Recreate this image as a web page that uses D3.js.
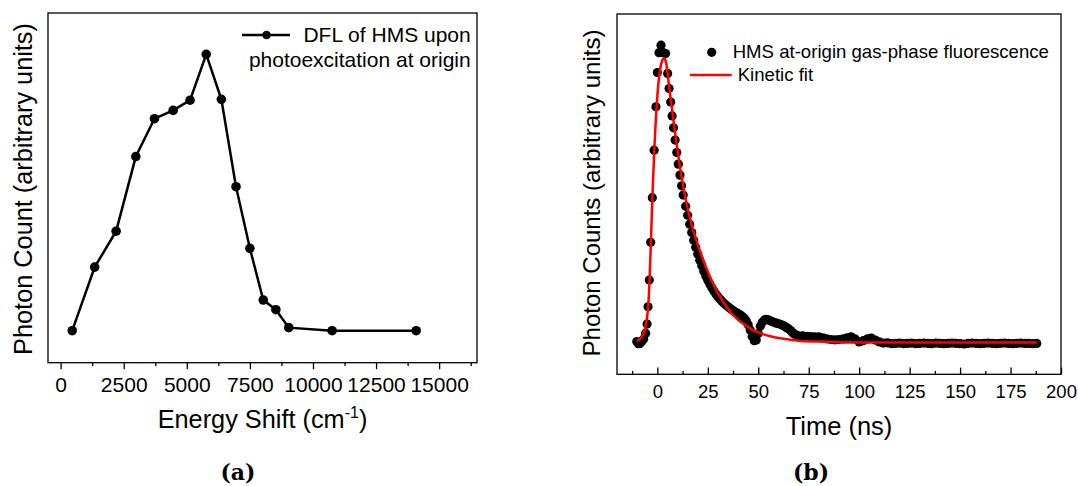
<!DOCTYPE html>
<html>
<head>
<meta charset="utf-8">
<title>HMS fluorescence</title>
<script src="https://d3js.org/d3.v7.min.js"></script>
<style>
  body { margin: 0; background: #fff; }
  svg { display: block; font-family: "Liberation Sans", Arial, sans-serif; }
  .frame { fill: none; stroke: #000; stroke-width: 1.3px; }
  .axis line { stroke: #000; stroke-width: 1.3px; }
  .axis text { fill: #000; font-family: "Liberation Sans", Arial, sans-serif; }
  .sub { font-family: "DejaVu Serif", serif; font-weight: bold; font-size: 22px; }
</style>
</head>
<body>
<svg id="fig" width="1078" height="486"></svg>
<script>
// (a) DFL spectrum
const dflShift = [460, 1350, 2200, 2980, 3720, 4460, 5130, 5770, 6370, 6950, 7500, 8030, 8530, 9040, 10760, 14090];
const dflCount = [0.03, 0.26, 0.39, 0.66, 0.797, 0.827, 0.864, 1.03, 0.867, 0.551, 0.328, 0.141, 0.106, 0.041, 0.03, 0.03];
const shiftTicks = [0, 2500, 5000, 7500, 10000, 12500, 15000];
const shiftMinor = [1250, 3750, 6250, 8750, 11250, 13750, 16250];

// (b) fluorescence decay (ns, arbitrary units)
const decayTime = [-10.2, -9.4, -8.6, -7.6, -6.8, -5.8, -5.1, -4.6, -4.0, -3.3, -2.5, -1.6, -0.7, 0.0, 0.8, 1.8, 2.9, 4.1, 5.1, 5.8, 6.6, 7.3, 8.0, 8.8, 9.6, 10.4, 11.2, 12.0, 12.8,
  14, 15, 16, 17, 18, 19, 20, 21, 22, 23, 24, 25, 26, 27, 28, 29, 30, 31, 32, 33, 34, 35, 36, 37, 38, 39, 40, 41, 42,
  43, 44, 45, 46, 47, 48, 49, 50, 51, 52, 53, 54, 55, 56, 57, 58, 59, 60, 61, 62, 63, 64, 65, 66, 67, 68, 69, 70,
  72, 74, 76, 78, 80, 82, 84, 86, 88, 90, 92, 94, 96, 98, 100, 102, 104, 106, 108, 110, 112, 114, 116, 118, 120,
  122, 124, 126, 128, 130, 132, 134, 136, 138, 140, 142, 144, 146, 148, 150, 152, 154, 156, 158, 160, 162, 164,
  166, 168, 170, 172, 174, 176, 178, 180, 182, 184, 186, 188];
const decayCount = [0.003, -0.004, -0.003, 0.005, 0.012, 0.031, 0.062, 0.12, 0.21, 0.337, 0.487, 0.647, 0.793, 0.908, 0.975, 1.0, 0.975, 0.972, 0.905, 0.854, 0.809, 0.762, 0.722, 0.681, 0.639, 0.6, 0.563, 0.527, 0.496,
  0.458, 0.428, 0.398, 0.37, 0.344, 0.32, 0.298, 0.277, 0.258, 0.24, 0.224, 0.209, 0.196, 0.184, 0.173, 0.163, 0.154, 0.146, 0.139, 0.132, 0.126, 0.12, 0.115, 0.11, 0.105, 0.101, 0.097, 0.093, 0.088,
  0.082, 0.073, 0.06, 0.042, 0.02, 0.006, 0.008, 0.03, 0.055, 0.068, 0.076, 0.078, 0.076, 0.073, 0.07, 0.067, 0.065, 0.063, 0.061, 0.058, 0.055, 0.05, 0.046, 0.04, 0.033, 0.028, 0.024, 0.022,
  0.022, 0.021, 0.02, 0.019, 0.019, 0.016, 0.012, 0.01, 0.009, 0.01, 0.012, 0.016, 0.019, 0.012, 0.002, 0.006, 0.012, 0.015, 0.008, 0.002, -0.002, -0.001, -0.004, -0.003, -0.002,
  -0.004, -0.003, -0.002, -0.004, -0.003, -0.002, -0.003, -0.004, -0.002, -0.003, -0.004, -0.003, -0.002, -0.003, -0.004, -0.005, -0.003, -0.002, -0.003, -0.004, -0.003, -0.002,
  -0.003, -0.004, -0.003, -0.002, -0.003, -0.004, -0.003, -0.002, -0.003, -0.003, -0.004, -0.003];
const fitTime = [-10.2, -9, -8, -7, -6, -5, -4.5, -4, -3.5, -3, -2.5, -2, -1.5, -1, -0.5, 0, 0.5, 1, 1.5, 2, 2.5, 3, 3.5, 4, 4.5, 5, 5.5, 6, 7, 8, 9, 10, 11, 12, 13, 14, 15, 16, 18,
  20, 22, 24, 26, 28, 30, 33, 36, 40, 44, 48, 52, 56, 60, 65, 70, 80, 90, 100, 120, 150, 188];
const fitCount = [0.005, 0.01, 0.016, 0.028, 0.05, 0.09, 0.125, 0.19, 0.28, 0.38, 0.48, 0.57, 0.65, 0.72, 0.78, 0.83, 0.87, 0.9, 0.925, 0.94, 0.95, 0.955, 0.957, 0.95, 0.935, 0.91, 0.88, 0.85, 0.8, 0.745, 0.695, 0.645, 0.6, 0.557, 0.518, 0.483, 0.452, 0.423, 0.372,
  0.33, 0.29, 0.255, 0.222, 0.192, 0.166, 0.133, 0.104, 0.076, 0.056, 0.04, 0.029, 0.021, 0.015, 0.01, 0.006, 0.003, 0.001, 0, 0, 0, 0];
const timeTicks = [0, 25, 50, 75, 100, 125, 150, 175, 200];
const timeMinor = [-12.5, 12.5, 37.5, 62.5, 87.5, 112.5, 137.5, 162.5, 187.5];

const svg = d3.select("#fig");
svg.append("rect").attr("width", 1078).attr("height", 486).attr("fill", "#fff");

// ---------- panel (a) ----------
const xa = d3.scaleLinear().domain([-500, 16500]).range([48, 477]);
const ya = d3.scaleLinear().domain([-0.0858, 1.1794]).range([362.7, 13]);

const ga = svg.append("g");
ga.append("g").attr("class", "axis")
  .attr("transform", "translate(0,362.7)")
  .call(d3.axisBottom(xa).tickValues(shiftTicks).tickSize(6.5).tickPadding(8.2).tickFormat(d3.format("d")))
  .call(g => g.select(".domain").remove())
  .call(g => g.selectAll("text").attr("font-size", 21));
ga.append("g").attr("class", "axis")
  .attr("transform", "translate(0,362.7)")
  .call(d3.axisBottom(xa).tickValues(shiftMinor).tickSize(3.3).tickFormat(""))
  .call(g => g.select(".domain").remove());
ga.append("rect").attr("class", "frame")
  .attr("x", xa.range()[0]).attr("y", ya.range()[1])
  .attr("width", xa.range()[1] - xa.range()[0]).attr("height", ya.range()[0] - ya.range()[1]);

const dfl = dflShift.map((s, i) => [s, dflCount[i]]);
ga.append("path").datum(dfl)
  .attr("fill", "none").attr("stroke", "#000").attr("stroke-width", 2.5)
  .attr("d", d3.line().x(d => xa(d[0])).y(d => ya(d[1])));
ga.selectAll("circle.pt").data(dfl).join("circle").attr("class", "pt")
  .attr("cx", d => xa(d[0])).attr("cy", d => ya(d[1])).attr("r", 4.8).attr("fill", "#000");

// legend (a)
ga.append("line").attr("x1", 242).attr("x2", 290).attr("y1", 35).attr("y2", 35)
  .attr("stroke", "#000").attr("stroke-width", 2.5);
ga.append("circle").attr("cx", 266.5).attr("cy", 35).attr("r", 4.3).attr("fill", "#000");
ga.append("text").attr("x", 470.7).attr("y", 41.7).attr("text-anchor", "end").attr("font-size", 21)
  .text("DFL of HMS upon");
ga.append("text").attr("x", 470.7).attr("y", 66.7).attr("text-anchor", "end").attr("font-size", 21)
  .text("photoexcitation at origin");

// axis titles (a)
const xt = ga.append("text").attr("x", 262.5).attr("y", 428).attr("text-anchor", "middle").attr("font-size", 25.3);
xt.append("tspan").text("Energy Shift (cm");
xt.append("tspan").attr("font-size", 16).attr("dy", -10).text("-1");
xt.append("tspan").attr("dy", 10).text(")");
ga.append("text").attr("transform", "translate(31.7,189) rotate(-90)")
  .attr("text-anchor", "middle").attr("font-size", 25.3).text("Photon Count (arbitrary units)");
ga.append("text").attr("class", "sub").attr("x", 238).attr("y", 480).attr("text-anchor", "middle").text("(a)");

// ---------- panel (b) ----------
const xb = d3.scaleLinear().domain([-20, 200]).range([617, 1061]);
const yb = d3.scaleLinear().domain([-0.107, 1.105]).range([374.3, 14]);

const gb = svg.append("g");
gb.append("g").attr("class", "axis")
  .attr("transform", "translate(0,374.3)")
  .call(d3.axisBottom(xb).tickValues(timeTicks).tickSize(-6.7).tickPadding(10.1))
  .call(g => g.select(".domain").remove())
  .call(g => g.selectAll("text").attr("font-size", 18.5));
gb.append("g").attr("class", "axis")
  .attr("transform", "translate(0,374.3)")
  .call(d3.axisBottom(xb).tickValues(timeMinor).tickSize(-3.4).tickFormat(""))
  .call(g => g.select(".domain").remove());
gb.append("rect").attr("class", "frame")
  .attr("x", xb.range()[0]).attr("y", yb.range()[1])
  .attr("width", xb.range()[1] - xb.range()[0]).attr("height", yb.range()[0] - yb.range()[1]);

const decay = decayTime.map((t, i) => [t, decayCount[i]]);
gb.selectAll("circle.dp").data(decay).join("circle").attr("class", "dp")
  .attr("cx", d => xb(d[0])).attr("cy", d => yb(d[1])).attr("r", 4.6).attr("fill", "#000");

const fit = fitTime.map((t, i) => [t, fitCount[i]]);
gb.append("path").datum(fit)
  .attr("fill", "none").attr("stroke", "#ff0000").attr("stroke-width", 2.5)
  .attr("d", d3.line().curve(d3.curveMonotoneX).x(d => xb(d[0])).y(d => yb(d[1])));

// legend (b)
gb.append("circle").attr("cx", 711.7).attr("cy", 52.3).attr("r", 4.6).attr("fill", "#000");
gb.append("text").attr("x", 732.7).attr("y", 58.3).attr("font-size", 18.6).text("HMS at-origin gas-phase fluorescence");
gb.append("line").attr("x1", 690).attr("x2", 731.7).attr("y1", 75).attr("y2", 75)
  .attr("stroke", "#ff0000").attr("stroke-width", 2.5);
gb.append("text").attr("x", 737.7).attr("y", 80.7).attr("font-size", 18.6).text("Kinetic fit");

// axis titles (b)
gb.append("text").attr("x", 839).attr("y", 435).attr("text-anchor", "middle").attr("font-size", 25.5).text("Time (ns)");
gb.append("text").attr("transform", "translate(600,193) rotate(-90)")
  .attr("text-anchor", "middle").attr("font-size", 24).text("Photon Counts (arbitrary units)");
gb.append("text").attr("class", "sub").attr("x", 811).attr("y", 480).attr("text-anchor", "middle").text("(b)");
</script>
</body>
</html>
